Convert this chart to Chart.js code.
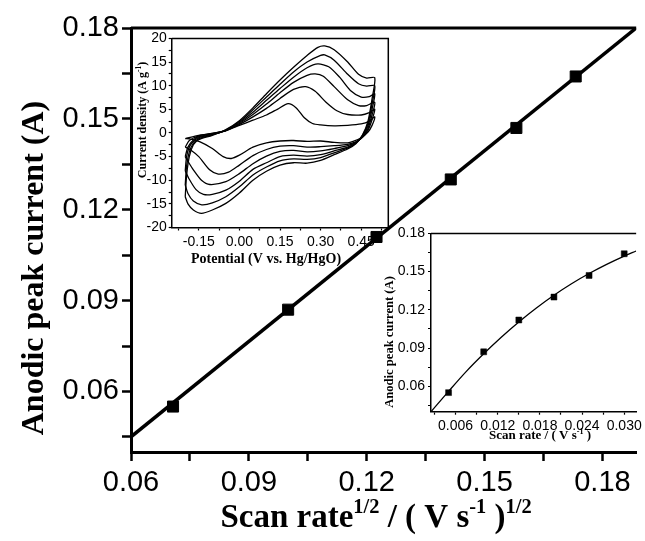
<!DOCTYPE html>
<html>
<head>
<meta charset="utf-8">
<title>Anodic peak current vs scan rate</title>
<script src="https://cdn.jsdelivr.net/npm/chart.js"></script>
<style>
  body { margin: 0; background: #fff; }
  #wrap { position: relative; width: 645px; height: 541px; overflow: hidden; }
  #wrap canvas { position: absolute; }
  #main { left: 0; top: 0; }
  #cv { left: 130px; top: 28px; }
  #fit { left: 372px; top: 222px; }
</style>
</head>
<body>
<div id="wrap">
  <canvas id="main" width="645" height="541"></canvas>
  <canvas id="cv" width="262" height="240"></canvas>
  <canvas id="fit" width="273" height="226"></canvas>
</div>
<script>
// main plot: peak current vs sqrt(scan rate)
const sqrtRate = [0.0707, 0.1, 0.1225, 0.1414, 0.1581, 0.1732];
const peakCurrent = [0.055, 0.087, 0.111, 0.130, 0.147, 0.164];
const fitX = [0.06, 0.1886];
const fitY = [0.045, 0.18];

// lower right inset: peak current vs scan rate
const scanRate = [0.005, 0.010, 0.015, 0.020, 0.025, 0.030];
const insetCurrent = [0.055, 0.087, 0.112, 0.130, 0.147, 0.164];
const insetFitX = [0.0025, 0.005, 0.0075, 0.01, 0.0125, 0.015, 0.0175, 0.02, 0.0225, 0.025, 0.0275, 0.03, 0.0317];
const insetFitY = [0.040, 0.0560, 0.0715, 0.0855, 0.0985, 0.1105, 0.1215, 0.1315, 0.1405, 0.1485, 0.1557, 0.1622, 0.1662];

// upper inset: CV loops (potential V, current density A/g), smallest to largest scan rate
const cvV1 = [-0.2,-0.15,-0.1,-0.05,0,0.05,0.1,0.14,0.18,0.21,0.24,0.27,0.3,0.35,0.4,0.45,0.48,0.5,
              0.49,0.475,0.45,0.42,0.4,0.35,0.3,0.25,0.2,0.15,0.1,0.05,0,-0.03,-0.06,-0.1,-0.145,-0.18];
const cvI1 = [-1.2,-0.5,-0.1,0.5,1.6,2.7,3.8,5.0,6.2,5.3,3.2,2.0,1.7,1.5,1.6,1.9,2.5,3.4,
              1.6,0.2,-1.0,-1.8,-2.1,-2.0,-1.7,-1.8,-1.6,-1.7,-2.1,-3.0,-4.7,-5.4,-5.0,-3.3,-1.9,-1.3];
const cvV2 = [-0.2,-0.185,-0.15,-0.1,-0.05,0,0.05,0.1,0.15,0.2,0.245,0.28,0.32,0.36,0.4,0.45,0.48,0.5,
              0.49,0.475,0.455,0.43,0.4,0.35,0.3,0.25,0.2,0.15,0.1,0.05,0,-0.04,-0.078,-0.11,-0.15,-0.18];
const cvI2 = [-3.0,-1.6,-0.6,-0.1,0.5,1.8,3.4,5.2,7.3,9.2,9.8,8.8,6.5,4.7,3.9,3.8,4.3,5.0,
              2.8,0.6,-0.9,-1.9,-2.4,-2.7,-2.9,-3.0,-2.7,-2.8,-3.5,-4.8,-6.8,-8.3,-8.7,-7.8,-5.0,-3.6];
const cvV3 = [-0.2,-0.19,-0.17,-0.15,-0.1,-0.05,0,0.05,0.1,0.15,0.2,0.25,0.28,0.31,0.35,0.4,0.44,0.47,0.5,
              0.49,0.475,0.455,0.43,0.4,0.35,0.3,0.25,0.2,0.15,0.1,0.05,0,-0.05,-0.109,-0.14,-0.17,-0.19];
const cvI3 = [-5.0,-3.0,-1.5,-0.8,-0.2,0.5,2.0,3.9,6.1,8.5,10.7,12.2,12.5,12.0,9.8,7.0,5.8,5.8,6.5,
              3.8,1.0,-0.8,-2.0,-2.7,-3.3,-3.8,-4.0,-3.7,-3.9,-4.9,-6.5,-8.6,-10.3,-10.9,-10.0,-7.8,-6.0];
const cvV4 = [-0.2,-0.195,-0.185,-0.17,-0.15,-0.1,-0.05,0,0.05,0.1,0.15,0.2,0.25,0.29,0.33,0.37,0.41,0.45,0.48,0.5,
              0.49,0.475,0.455,0.43,0.4,0.35,0.3,0.25,0.2,0.15,0.1,0.05,0,-0.05,-0.1,-0.133,-0.16,-0.185];
const cvI4 = [-8.0,-5.0,-3.0,-1.8,-1.0,-0.3,0.5,2.2,4.4,6.9,9.4,11.8,13.8,14.6,14.0,11.8,9.0,7.6,7.7,8.3,
              5.0,1.5,-0.6,-2.1,-3.0,-3.8,-4.6,-4.9,-4.7,-5.0,-6.3,-7.7,-10.2,-12.1,-13.0,-13.0,-12.0,-9.8];
const cvV5 = [-0.2,-0.195,-0.185,-0.17,-0.15,-0.1,-0.05,0,0.05,0.1,0.15,0.2,0.25,0.3,0.315,0.35,0.4,0.44,0.47,0.5,
              0.49,0.475,0.455,0.43,0.4,0.35,0.3,0.25,0.2,0.15,0.1,0.05,0,-0.05,-0.1,-0.139,-0.17,-0.19];
const cvI5 = [-11.0,-7.0,-4.0,-2.2,-1.2,-0.4,0.6,2.4,4.9,7.6,10.3,12.9,15.0,16.4,16.5,15.4,12.4,10.4,9.9,10.0,
              6.2,2.0,-0.5,-2.2,-3.2,-4.2,-5.2,-5.6,-5.5,-5.9,-7.2,-8.9,-11.4,-13.5,-14.8,-15.2,-14.4,-12.8];
const cvV6 = [-0.2,-0.195,-0.185,-0.17,-0.15,-0.1,-0.05,0,0.05,0.1,0.15,0.2,0.25,0.29,0.315,0.35,0.4,0.44,0.47,0.5,
              0.49,0.475,0.455,0.43,0.4,0.35,0.3,0.25,0.2,0.15,0.1,0.05,0,-0.05,-0.1,-0.14,-0.17,-0.19];
const cvI6 = [-13.5,-9.0,-5.0,-2.5,-1.4,-0.5,0.7,2.6,5.3,8.3,11.2,13.9,16.4,18.1,18.4,17.6,15.0,12.4,11.6,11.7,
              7.2,2.5,-0.4,-2.3,-3.4,-4.6,-5.8,-6.4,-6.3,-6.8,-8.1,-10.0,-12.7,-14.9,-16.3,-17.0,-16.3,-15.0];

// axis titles, [text, superscript?]
const mainXTitle = [['Scan rate', 0], ['1/2', 1], [' / ( V s', 0], ['-1', 1], [' )', 0], ['1/2', 1]];
const mainYTitle = [['Anodic peak current (A)', 0]];
const cvXTitle = [['Potential (V vs. Hg/HgO)', 0]];
const cvYTitle = [['Current density (A g', 0], ['-1', 1], [')', 0]];
const insetXTitle = [['Scan rate / ( V s', 0], ['-1', 1], [' )', 0]];
const insetYTitle = [['Anodic peak current (A)', 0]];

const SANS = '"Liberation Sans", Arial, sans-serif';
const SERIF = '"Liberation Serif", "Times New Roman", serif';

function pts(xs, ys) { return xs.map((x, i) => ({ x: x, y: ys[i] })); }
function loop(xs, ys) { const p = pts(xs, ys); p.push(p[0]); return p; }

function richText(ctx, parts, x, y, size, rotate) {
  ctx.save();
  ctx.translate(x, y);
  if (rotate) ctx.rotate(-Math.PI / 2);
  ctx.fillStyle = '#000';
  ctx.textBaseline = 'alphabetic';
  ctx.textAlign = 'left';
  const sup = size * 0.62;
  let total = 0;
  parts.forEach(p => { ctx.font = 'bold ' + (p[1] ? sup : size) + 'px ' + SERIF; total += ctx.measureText(p[0]).width; });
  let cx = -total / 2;
  parts.forEach(p => {
    ctx.font = 'bold ' + (p[1] ? sup : size) + 'px ' + SERIF;
    ctx.fillText(p[0], cx, p[1] ? -size * 0.42 : 0);
    cx += ctx.measureText(p[0]).width;
  });
  ctx.restore();
}

// frame lines and axis titles
const decor = {
  id: 'decor',
  afterDraw(chart, args, opts) {
    const ctx = chart.ctx, a = chart.chartArea;
    ctx.save();
    ctx.strokeStyle = '#000';
    ctx.lineWidth = opts.frameWidth;
    ctx.beginPath();
    ctx.moveTo(a.left, a.top); ctx.lineTo(a.right, a.top);
    if (opts.right) ctx.lineTo(a.right, a.bottom);
    ctx.stroke();
    ctx.restore();
    (opts.titles || []).forEach(t => richText(ctx, t.parts, t.x, t.y, t.size, t.rotate));
  }
};

function axis(opts) {
  const lbl = opts.label;
  return {
    type: 'linear', min: opts.min, max: opts.max,
    afterFit: opts.fit,
    border: { display: true, width: opts.bw, color: '#000' },
    grid: { display: true, drawOnChartArea: false, drawTicks: true, tickLength: opts.tl, tickWidth: opts.tw, color: '#000' },
    ticks: {
      stepSize: opts.step, includeBounds: false, autoSkip: false, maxRotation: 0,
      padding: opts.pad, color: '#000', font: { family: SANS, size: opts.fs },
      callback: v => (Math.abs(Math.round(v / opts.step)) % 2 === 0 ? lbl(v) : '')
    }
  };
}

new Chart(document.getElementById('main'), {
  type: 'scatter',
  data: {
    datasets: [
      { type: 'line', data: pts(fitX, fitY), borderColor: '#000', borderWidth: 3.5, pointRadius: 0, fill: false },
      { data: pts(sqrtRate, peakCurrent), pointStyle: 'rect', pointRadius: 7.8, backgroundColor: '#000', borderColor: '#000', borderWidth: 1 }
    ]
  },
  options: {
    responsive: false, animation: false,
    layout: { padding: { left: 0, right: 0, top: 28, bottom: 0 } },
    plugins: {
      legend: { display: false }, tooltip: { enabled: false },
      decor: { frameWidth: 3, right: false, titles: [
        { parts: mainXTitle, x: 376, y: 527, size: 33 },
        { parts: mainYTitle, x: 43, y: 268, size: 32, rotate: true }
      ] }
    },
    scales: {
      x: axis({ min: 0.06, max: 0.1886, step: 0.015, bw: 3, tl: 9, tw: 2.5, pad: 5, fs: 29,
                fit: s => { s.height = 89; }, label: v => v.toFixed(2) }),
      y: axis({ min: 0.04, max: 0.18, step: 0.015, bw: 3, tl: 9, tw: 2.5, pad: 3, fs: 29,
                fit: s => { s.width = 131; }, label: v => v.toFixed(2) })
    }
  },
  plugins: [decor]
});

const cvSets = [[cvV1, cvI1], [cvV2, cvI2], [cvV3, cvI3], [cvV4, cvI4], [cvV5, cvI5], [cvV6, cvI6]];
new Chart(document.getElementById('cv'), {
  type: 'scatter',
  data: {
    datasets: cvSets.map(s => ({
      type: 'line', data: loop(s[0], s[1]), borderColor: '#000', borderWidth: 1.3,
      pointRadius: 0, tension: 0.25, fill: false
    }))
  },
  options: {
    responsive: false, animation: false,
    layout: { padding: { left: 0, right: 3.7, top: 9.7, bottom: 0 } },
    plugins: {
      legend: { display: false }, tooltip: { enabled: false },
      decor: { frameWidth: 1.5, right: true, titles: [
        { parts: cvXTitle, x: 136, y: 235, size: 14 },
        { parts: cvYTitle, x: 16, y: 92, size: 12, rotate: true }
      ] }
    },
    scales: {
      x: axis({ min: -0.25, max: 0.55, step: 0.075, bw: 1.5, tl: 3, tw: 1.2, pad: 3, fs: 14,
                fit: s => { s.height = 40.5; }, label: v => v.toFixed(2) }),
      y: axis({ min: -20, max: 20, step: 2.5, bw: 1.5, tl: 3, tw: 1.2, pad: 2, fs: 14,
                fit: s => { s.width = 41.7; }, label: v => String(Math.round(v)) })
    }
  },
  plugins: [decor]
});

new Chart(document.getElementById('fit'), {
  type: 'scatter',
  data: {
    datasets: [
      { type: 'line', data: pts(insetFitX, insetFitY), borderColor: '#000', borderWidth: 1.3, pointRadius: 0,
        cubicInterpolationMode: 'monotone', fill: false },
      { data: pts(scanRate, insetCurrent), pointStyle: 'rect', pointRadius: 4.2, backgroundColor: '#000', borderColor: '#000', borderWidth: 0.5 }
    ]
  },
  options: {
    responsive: false, animation: false,
    layout: { padding: { left: 0, right: 0, top: 11.3, bottom: 0 } },
    plugins: {
      legend: { display: false }, tooltip: { enabled: false },
      decor: { frameWidth: 1.5, right: false, titles: [
        { parts: insetXTitle, x: 168, y: 217, size: 13 },
        { parts: insetYTitle, x: 21, y: 120, size: 12.6, rotate: true }
      ] }
    },
    scales: {
      x: axis({ min: 0.0025, max: 0.0317, step: 0.003, bw: 1.5, tl: 3, tw: 1.2, pad: 3, fs: 14,
                fit: s => { s.height = 36.3; }, label: v => v.toFixed(3) }),
      y: axis({ min: 0.04, max: 0.18, step: 0.015, bw: 1.5, tl: 3, tw: 1.2, pad: 3, fs: 14,
                fit: s => { s.width = 59; }, label: v => v.toFixed(2) })
    }
  },
  plugins: [decor]
});
</script>
</body>
</html>
